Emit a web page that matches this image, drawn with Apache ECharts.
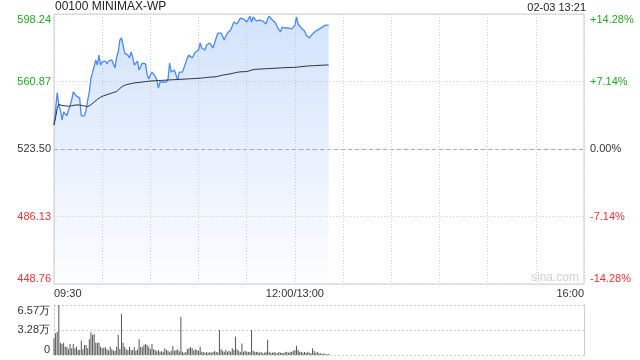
<!DOCTYPE html>
<html>
<head>
<meta charset="utf-8">
<script src="https://cdn.jsdelivr.net/npm/echarts@6/dist/echarts.min.js"></script>
<style>
html,body{margin:0;padding:0;background:#fff;}
#c{width:640px;height:360px;}
</style>
</head>
<body>
<div id="c"></div>
<script>
// ---- data ----
var title = '00100 MINIMAX-WP';
var stamp = '02-03 13:21';
var basePrice = 523.50;
var timeTickMinutes = [0, 150, 330];
var timeTickLabels = ['09:30', '12:00/13:00', '16:00'];
var priceTickLabels = ['448.76', '486.13', '523.50', '560.87', '598.24'];
var pctTickLabels = ['-14.28%', '-7.14%', '0.00%', '+7.14%', '+14.28%'];
var volTickLabels = ['0', '3.28万', '6.57万'];
var volMax = 65700;

// minute-by-minute prices (09:30 .. 13:21)
var price = [
536.8, 545.5, 554.7, 548.0, 545.1, 539.6, 544.0, 545.1, 541.8, 545.1,
547.3, 550.6, 555.1, 554.0, 552.8, 552.3, 551.7, 541.8, 541.2, 541.8,
545.1, 550.6, 555.1, 562.8, 565.6, 569.4, 572.8, 570.0, 575.5, 570.0,
571.7, 571.1, 572.2, 570.6, 572.2, 571.1, 572.8, 570.6, 568.3, 574.4,
577.2, 583.8, 585.0, 581.1, 576.6, 577.2, 575.5, 573.9, 577.2, 574.4,
570.0, 571.1, 572.2, 567.2, 566.1, 571.1, 570.0, 570.6, 564.5, 562.3,
564.5, 566.1, 565.0, 563.9, 561.7, 557.3, 560.6, 561.1, 560.6, 561.1,
560.6, 562.3, 571.1, 566.1, 566.1, 567.2, 566.1, 561.7, 566.1, 565.6,
566.1, 566.6, 571.1, 573.9, 575.5, 576.6, 573.9, 575.5, 577.2, 576.1,
578.3, 582.2, 579.4, 580.5, 578.3, 581.1, 582.2, 582.2, 581.1, 579.4,
582.2, 585.0, 587.7, 588.8, 587.7, 586.1, 583.8, 586.1, 587.7, 588.3,
589.4, 591.6, 593.8, 594.9, 592.7, 592.1, 596.0, 596.6, 595.5, 594.9,
593.8, 594.4, 597.1, 593.8, 596.6, 595.5, 594.4, 595.5, 594.9, 593.8,
594.4, 593.3, 592.7, 595.5, 597.1, 596.0, 594.9, 594.4, 593.3, 591.0,
590.5, 588.3, 591.0, 591.0, 590.5, 590.5, 590.5, 589.9, 590.0, 591.0,
592.1, 596.6, 592.7, 591.6, 590.5, 589.9, 588.8, 586.6, 586.1, 585.0,
586.1, 587.2, 588.3, 588.8, 589.4, 589.9, 590.5, 591.0, 591.6, 592.1,
592.1, 592.1
];

// average price line
var avgPrice = [
536.8, 541.0, 546.0, 548.2, 547.8, 547.6, 547.5, 547.4, 547.3, 547.2,
547.3, 547.4, 547.6, 547.8, 547.9, 547.9, 547.9, 547.7, 547.5, 547.3,
547.1, 547.0, 547.3, 548.0, 548.7, 549.5, 550.3, 551.0, 551.7, 552.2,
552.6, 553.0, 553.3, 553.6, 553.9, 554.2, 554.5, 554.8, 555.0, 555.3,
555.8, 557.0, 557.8, 558.4, 558.8, 559.1, 559.3, 559.5, 559.7, 559.9,
560.1, 560.2, 560.3, 560.4, 560.5, 560.6, 560.7, 560.8, 560.9, 561.0,
561.1, 561.2, 561.2, 561.3, 561.3, 561.4, 561.4, 561.5, 561.5, 561.6,
561.6, 561.7, 561.7, 561.8, 561.8, 561.9, 561.9, 562.0, 562.0, 562.1,
562.1, 562.2, 562.2, 562.3, 562.3, 562.4, 562.4, 562.5, 562.5, 562.6,
562.6, 562.7, 562.8, 562.9, 563.0, 563.1, 563.2, 563.3, 563.3, 563.4,
563.4, 563.5, 563.8, 564.0, 564.2, 564.4, 564.5, 564.7, 564.8, 565.0,
565.1, 565.3, 565.5, 565.8, 566.0, 566.1, 566.2, 566.3, 566.3, 566.3,
566.4, 566.6, 566.9, 567.2, 567.4, 567.6, 567.7, 567.7, 567.8, 567.8,
567.9, 567.9, 568.0, 568.0, 568.1, 568.1, 568.2, 568.2, 568.3, 568.3,
568.4, 568.4, 568.5, 568.5, 568.5, 568.6, 568.6, 568.6, 568.7, 568.7,
568.7, 568.8, 568.9, 569.0, 569.1, 569.2, 569.3, 569.4, 569.4, 569.5,
569.5, 569.6, 569.6, 569.7, 569.7, 569.8, 569.8, 569.9, 569.9, 570.0,
570.0, 570.0
];

// minute volumes (shares)
var volume = [
22000, 28500, 30700, 65700, 16000, 14500, 16000, 11000, 11000, 8000,
14500, 9000, 14500, 8800, 10900, 6600, 7000, 19000, 7400, 13100,
13100, 9000, 20600, 29800, 26300, 27600, 16200, 16000, 16000, 10900,
8800, 9500, 10100, 7400, 6000, 10900, 7400, 6000, 5700, 10900,
26300, 8000, 54000, 16200, 10900, 7400, 6600, 10900, 6600, 6600,
10100, 5700, 7000, 20600, 10900, 10100, 13100, 14500, 13100, 10900,
8000, 14500, 7400, 6600, 5000, 6600, 4400, 5000, 4400, 8800,
6600, 5700, 3500, 6000, 11800, 5700, 6600, 7400, 5000, 50000,
4400, 3100, 4000, 7400, 8800, 10100, 8800, 6000, 7400, 6600,
5700, 10900, 4400, 3900, 3100, 3900, 3100, 3900, 3100, 3900,
5300, 4000, 3500, 33000, 7400, 5700, 4400, 6600, 4400, 5700,
4400, 8800, 7000, 24000, 7400, 5700, 4000, 15000, 4400, 5700,
4400, 3900, 4400, 33000, 5700, 4400, 3900, 4400, 3100, 3900,
2200, 3100, 3900, 20000, 4400, 3100, 3100, 3900, 3100, 2200,
3900, 3100, 3100, 2200, 3900, 4400, 3100, 3900, 4400, 5700,
6600, 12000, 6600, 4400, 3900, 3100, 3900, 3100, 4400, 3100,
2200, 9000, 5300, 3100, 3900, 2200, 2200, 1300, 2000, 1300,
1000, 1300
];

// ---- build ----
function pct(p){ return (p - basePrice) / basePrice * 100; }
var priceData = price.map(function(p, i){ return [i, pct(p)]; });
var avgData = avgPrice.map(function(p, i){ return [i, pct(p)]; });
var volData = volume.map(function(v, i){ return [i, v]; });

var FONT = 'Arial, "Liberation Sans", sans-serif';
var GREEN = '#22a822', RED = '#f03030', DARK = '#333';
function tickColor(i){ return i > 2 ? GREEN : (i < 2 ? RED : DARK); }

var chart = echarts.init(document.getElementById('c'), null, {renderer: 'canvas'});
chart.setOption({
  animation: false,
  textStyle: {fontFamily: FONT},
  grid: [
    {left: 54, right: 56, top: 14, height: 270, show: true, borderColor: '#ccc', borderWidth: 1},
    {left: 54, right: 56, top: 305, height: 50, show: false}
  ],
  xAxis: [
    {
      type: 'value', gridIndex: 0, min: 0, max: 330, interval: 30,
      axisLine: {show: false}, axisTick: {show: false},
      splitLine: {show: true, lineStyle: {color: '#d0d0d0', type: [1, 2], width: 1}},
      axisLabel: {
        show: true, margin: 4, fontSize: 11, color: DARK, fontFamily: FONT,
        alignMinLabel: 'left', alignMaxLabel: 'right',
        formatter: function(v){
          var k = timeTickMinutes.indexOf(v);
          return k >= 0 ? timeTickLabels[k] : '';
        }
      }
    },
    {
      type: 'value', gridIndex: 1, min: 0, max: 330, interval: 30,
      axisLine: {show: false}, axisTick: {show: false},
      splitLine: {show: false}, axisLabel: {show: false}
    }
  ],
  yAxis: [
    {
      type: 'value', gridIndex: 0, min: -14.28, max: 14.28, interval: 7.14,
      axisLine: {show: false}, axisTick: {show: false},
      splitLine: {show: true, lineStyle: {color: '#d0d0d0', type: [1, 2], width: 1}},
      axisLabel: {
        margin: 3, fontSize: 11, fontFamily: FONT,
        verticalAlignMinLabel: 'bottom', verticalAlignMaxLabel: 'top',
        formatter: function(v, i){ return priceTickLabels[i]; },
        color: function(v, i){ return tickColor(i); }
      }
    },
    {
      type: 'value', gridIndex: 0, position: 'right', min: -14.28, max: 14.28, interval: 7.14,
      axisLine: {show: false}, axisTick: {show: false}, splitLine: {show: false},
      axisLabel: {
        margin: 6, fontSize: 11, fontFamily: FONT,
        verticalAlignMinLabel: 'bottom', verticalAlignMaxLabel: 'top',
        formatter: function(v, i){ return pctTickLabels[i]; },
        color: function(v, i){ return tickColor(i); }
      }
    },
    {
      type: 'value', gridIndex: 1, min: 0, max: volMax, interval: volMax / 2,
      axisLine: {show: true, lineStyle: {color: '#ccc', type: [2, 2]}}, axisTick: {show: false},
      splitLine: {show: true, lineStyle: {color: '#d0d0d0', type: [2, 2], width: 1}},
      axisLabel: {
        margin: 4, fontSize: 11, color: DARK, fontFamily: FONT,
        verticalAlignMinLabel: 'bottom', verticalAlignMaxLabel: 'top',
        formatter: function(v, i){ return volTickLabels[i]; }
      }
    },
    {
      type: 'value', gridIndex: 1, position: 'right', min: 0, max: volMax,
      axisLine: {show: true, lineStyle: {color: '#ccc', width: 1}}, axisTick: {show: false},
      splitLine: {show: false}, axisLabel: {show: false}
    }
  ],
  series: [
    {
      type: 'line', xAxisIndex: 0, yAxisIndex: 0, data: priceData,
      showSymbol: false, symbol: 'none',
      lineStyle: {color: '#4a8af2', width: 1.3},
      areaStyle: {
        origin: 'start',
        color: new echarts.graphic.LinearGradient(0, 0, 0, 1, [
          {offset: 0, color: 'rgba(150,188,245,0.6)'},
          {offset: 1, color: 'rgba(150,188,245,0.03)'}
        ])
      },
      markLine: {
        silent: true, symbol: 'none', label: {show: false},
        lineStyle: {color: '#aaa', type: [4, 3], width: 1},
        data: [{yAxis: 0}]
      },
      z: 3
    },
    {
      type: 'line', xAxisIndex: 0, yAxisIndex: 0, data: avgData,
      showSymbol: false, symbol: 'none',
      lineStyle: {color: '#2a2f3a', width: 1}, z: 4
    },
    {
      type: 'bar', xAxisIndex: 1, yAxisIndex: 2, data: volData,
      barWidth: 1, itemStyle: {color: '#555'}
    }
  ],
  graphic: [
    {type: 'text', left: 55, top: 1, style: {text: title, font: '12px ' + FONT, fill: '#222'}},
    {type: 'text', right: 54, top: 2, style: {text: stamp, font: '11px ' + FONT, fill: '#222'}},
    {type: 'text', left: 531, top: 272, style: {text: 'sina.com', font: '12px ' + FONT, fill: '#d0d0d0'}}
  ]
});
</script>
</body>
</html>
